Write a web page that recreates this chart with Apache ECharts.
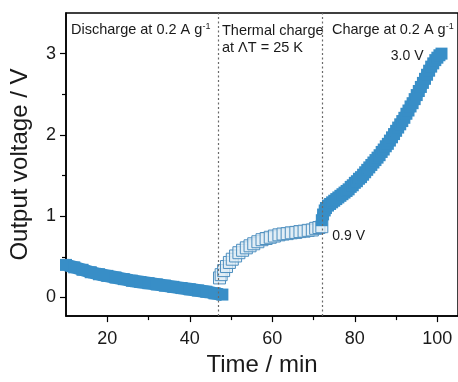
<!DOCTYPE html>
<html>
<head>
<meta charset="utf-8">
<script src="https://cdn.jsdelivr.net/npm/echarts@6/dist/echarts.min.js"></script>
<style>
  html, body { margin: 0; padding: 0; background: #ffffff; }
  #chart { width: 458px; height: 382px; }
</style>
</head>
<body>
<div id="chart"></div>
<script>
// Galvanostatic discharge, thermal charging at constant ΔT, then galvanostatic charge
const dischargeTime = [10, 12, 14, 16, 18, 20, 22, 24, 26, 28, 30, 32, 34, 36, 38, 40, 42, 44, 46, 47.9];
const dischargeVolt = [0.40, 0.37, 0.34, 0.31, 0.285, 0.265, 0.245, 0.225, 0.205, 0.19, 0.175, 0.16, 0.145, 0.13, 0.115, 0.10, 0.085, 0.07, 0.05, 0.035];

const thermalTime = [47.2, 47.6, 48.2, 48.9, 49.6, 50.3, 51.1, 51.9, 52.8, 53.7, 54.6, 55.5, 56.5, 57.5, 58.5, 59.5, 60.5, 61.6, 62.6, 63.6, 64.6, 65.7, 66.7, 67.7, 68.7, 69.7, 70.5, 71.3, 72.0];
const thermalVolt = [0.24, 0.28, 0.33, 0.38, 0.43, 0.47, 0.51, 0.55, 0.58, 0.61, 0.635, 0.66, 0.685, 0.71, 0.725, 0.74, 0.755, 0.77, 0.78, 0.785, 0.795, 0.80, 0.81, 0.815, 0.825, 0.83, 0.85, 0.86, 0.87];

const chargeTime = [72, 72.3, 72.7, 73, 73.5, 74, 74.5, 75, 75.5, 76, 76.5, 77, 77.5, 78, 78.5, 79, 79.5, 80, 80.5, 81, 81.5, 82, 82.5, 83, 83.5, 84, 84.5, 85, 85.5, 86, 86.5, 87, 87.5, 88, 88.5, 89, 89.5, 90, 90.5, 91, 91.5, 92, 92.5, 93, 93.5, 94, 94.5, 95, 95.5, 96, 96.5, 97, 97.5, 98, 98.5, 99, 99.5, 100, 100.5, 101];
const chargeVolt = [0.95, 1.02, 1.07, 1.10, 1.13, 1.15, 1.17, 1.19, 1.21, 1.23, 1.25, 1.27, 1.29, 1.31, 1.33, 1.36, 1.38, 1.41, 1.43, 1.46, 1.48, 1.51, 1.54, 1.57, 1.60, 1.63, 1.66, 1.69, 1.72, 1.75, 1.79, 1.82, 1.86, 1.89, 1.93, 1.97, 2.01, 2.05, 2.09, 2.13, 2.17, 2.21, 2.26, 2.30, 2.35, 2.39, 2.44, 2.49, 2.54, 2.59, 2.64, 2.69, 2.74, 2.79, 2.84, 2.88, 2.92, 2.95, 2.98, 3.0];

const stageBounds = [47, 72];
const xMajorTicks = [20, 40, 60, 80, 100];
const xMinorTicks = [30, 50, 70, 90];
const yMajorTicks = [0, 1, 2, 3];
const yMinorTicks = [0.5, 1.5, 2.5];

const stageTitles = {
  discharge: 'Discharge at 0.2 A g{sup|-1}',
  thermal: 'Thermal charge\nat ΛT = 25 K',
  charge: 'Charge at 0.2 A g{sup|-1}'
};
const thermalEndLabel = '0.9 V';
const chargeEndLabel = '3.0 V';

const FONT = '"Liberation Sans", Arial, sans-serif';
const BLUE = '#388ec7';
const INK = '#1a1a1a';

const pairs = (xs, ys) => xs.map((x, i) => [x, ys[i]]);

const thermalData = pairs(thermalTime, thermalVolt);
thermalData[thermalData.length - 1] = {
  value: thermalData[thermalData.length - 1],
  label: {
    show: true, position: 'right', distance: 4, offset: [0, 9],
    formatter: thermalEndLabel, fontFamily: FONT, fontSize: 14, color: INK
  }
};
const chargeData = pairs(chargeTime, chargeVolt);
chargeData[chargeData.length - 1] = {
  value: chargeData[chargeData.length - 1],
  label: {
    show: true, position: 'left', distance: 12, offset: [0, 3],
    formatter: chargeEndLabel, fontFamily: FONT, fontSize: 14, color: INK
  }
};

const supRich = {
  sup: { fontFamily: FONT, fontSize: 9, color: INK, padding: [0, 0, 7, 0] }
};

const chart = echarts.init(document.getElementById('chart'), null, { renderer: 'canvas' });

const baseX = { type: 'value', min: 10, max: 105, gridIndex: 0, splitLine: { show: false } };
const baseY = { type: 'value', min: -0.23, max: 3.5, gridIndex: 0, splitLine: { show: false } };

chart.setOption({
  animation: false,
  backgroundColor: '#ffffff',
  grid: {
    left: 65, top: 13, right: -3, bottom: 58,
    show: true, borderColor: '#000', borderWidth: 1.5
  },
  xAxis: [
    Object.assign({}, baseX, {
      position: 'bottom',
      axisLine: { show: true, onZero: false, lineStyle: { color: '#000', width: 1.5 } },
      axisTick: { show: true, inside: false, length: 6, customValues: xMajorTicks, lineStyle: { color: '#000', width: 1.2 } },
      axisLabel: { customValues: xMajorTicks, fontFamily: FONT, fontSize: 18, color: INK, margin: 14 },
      name: 'Time / min', nameLocation: 'middle', nameGap: 35,
      nameTextStyle: { fontFamily: FONT, fontSize: 24, color: INK }
    }),
    Object.assign({}, baseX, {
      position: 'bottom',
      axisLine: { show: false, onZero: false },
      axisTick: { show: true, inside: false, length: 4, customValues: xMinorTicks, lineStyle: { color: '#000', width: 1.2 } },
      axisLabel: { show: false }
    })
  ],
  yAxis: [
    Object.assign({}, baseY, {
      position: 'left',
      axisLine: { show: true, onZero: false, lineStyle: { color: '#000', width: 1.5 } },
      axisTick: { show: true, inside: false, length: 6, customValues: yMajorTicks, lineStyle: { color: '#000', width: 1.2 } },
      axisLabel: { customValues: yMajorTicks, fontFamily: FONT, fontSize: 18, color: INK, margin: 10 },
      name: 'Output voltage / V', nameLocation: 'middle', nameGap: 34,
      nameTextStyle: { fontFamily: FONT, fontSize: 24, color: INK }
    }),
    Object.assign({}, baseY, {
      position: 'left',
      axisLine: { show: false, onZero: false },
      axisTick: { show: true, inside: false, length: 4, customValues: yMinorTicks, lineStyle: { color: '#000', width: 1.2 } },
      axisLabel: { show: false }
    })
  ],
  graphic: [
    { type: 'text', left: 71, top: 22, silent: true,
      style: { text: stageTitles.discharge, fontFamily: FONT, fontSize: 14.5, fill: INK, rich: supRich } },
    { type: 'text', left: 222, top: 22, silent: true,
      style: { text: stageTitles.thermal, fontFamily: FONT, fontSize: 14.5, lineHeight: 17, fill: INK } },
    { type: 'text', left: 332, top: 22, silent: true,
      style: { text: stageTitles.charge, fontFamily: FONT, fontSize: 14.5, fill: INK, rich: supRich } }
  ],
  series: [
    {
      // stage boundaries
      type: 'line', data: [], z: 1, silent: true,
      markLine: {
        silent: true, symbol: 'none', animation: false,
        label: { show: false },
        lineStyle: { type: [2, 2.5], color: '#6a6a6a', width: 1.2 },
        data: stageBounds.map(v => ({ xAxis: v }))
      }
    },
    {
      type: 'line', name: 'discharge', z: 3,
      data: pairs(dischargeTime, dischargeVolt),
      showAllSymbol: true, symbol: 'rect', symbolSize: 12,
      itemStyle: { color: BLUE },
      lineStyle: { color: BLUE, width: 13 }
    },
    {
      type: 'line', name: 'thermal', z: 3,
      data: thermalData,
      showAllSymbol: true, symbol: 'rect', symbolSize: 12,
      itemStyle: { color: 'rgba(226,238,246,0.75)', borderColor: '#4e8fbf', borderWidth: 1 },
      lineStyle: { width: 0 }
    },
    {
      type: 'line', name: 'charge', z: 3,
      data: chargeData,
      showAllSymbol: true, symbol: 'rect', symbolSize: 12,
      itemStyle: { color: BLUE },
      lineStyle: { color: BLUE, width: 12 }
    }
  ]
});
</script>
</body>
</html>
